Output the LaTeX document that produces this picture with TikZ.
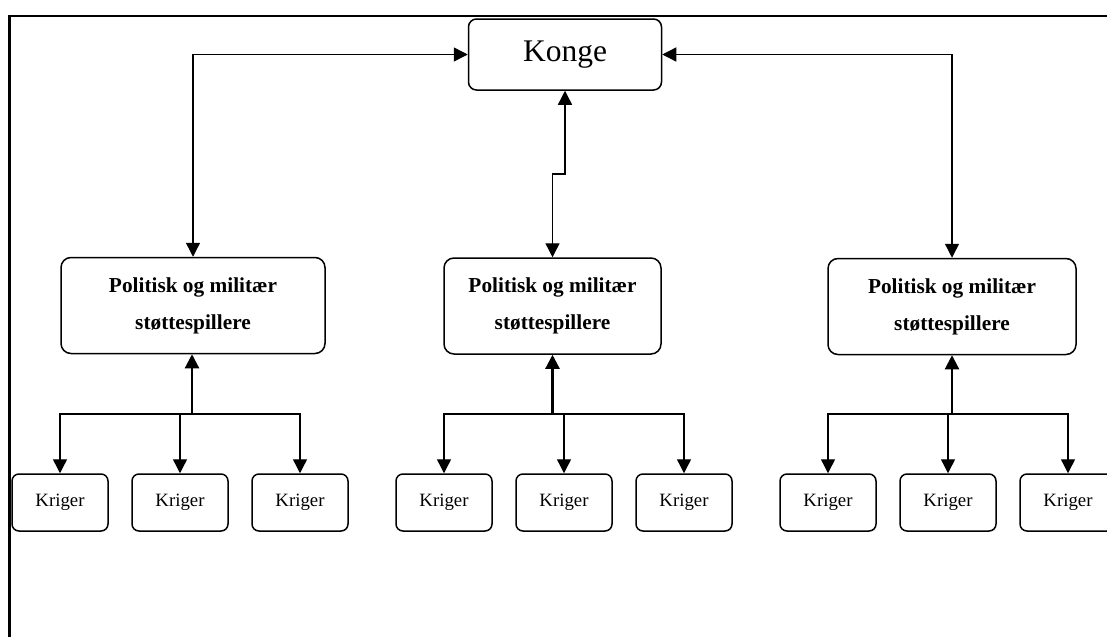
\documentclass[tikz,border=0pt]{standalone}
\usepackage{fontspec}
\setmainfont{Liberation Serif}
\usepackage{tikz}
\usetikzlibrary{positioning,arrows.meta}

\begin{document}
\begin{tikzpicture}[%
    x=0.5pt, y=-0.5pt, >={Triangle[length=7pt,width=7pt]},
    konge/.style  = {draw, rectangle, rounded corners=4pt, line width=0.75pt, minimum width=96.5pt, minimum height=35.5pt, font=\fontsize{15.75}{19}\selectfont},
    stotte/.style = {draw, rectangle, rounded corners=5pt, line width=0.75pt, minimum height=48pt, align=center, font=\fontsize{10.65}{18.5}\selectfont\bfseries},
    kriger/.style = {draw, rectangle, rounded corners=3.5pt, line width=0.75pt, minimum width=48pt, minimum height=28.5pt, font=\fontsize{9.4}{11}\selectfont},
    link/.style   = {line width=0.7pt},
    opp/.style    = {line width=1.1pt}]

  \useasboundingbox (0,0) rectangle (1107,637);
  \clip (0,0) rectangle (1107,637);
  % ramme
  \draw [line width=1.1pt] (9.5,637) -- (9.5,16) -- (1107,16);

  \draw (565,54.5) node[konge] (Konge) {Konge};

  \draw (193,305.5) node[stotte, minimum width=132pt] (Pol1) {Politisk og militær\\støttespillere};
  \draw (552.5,306) node[stotte, minimum width=108.5pt] (Pol2) {Politisk og militær\\støttespillere};
  \draw (952,306.5) node[stotte, minimum width=124pt] (Pol3) {Politisk og militær\\støttespillere};

  \draw (60,502.5) node[kriger] (K11) {Kriger};
  \draw (180,502.5) node[kriger] (K12) {Kriger};
  \draw (300,502.5) node[kriger] (K13) {Kriger};
  \draw (444,502.5) node[kriger] (K21) {Kriger};
  \draw (564,502.5) node[kriger] (K22) {Kriger};
  \draw (684,502.5) node[kriger] (K23) {Kriger};
  \draw (828,502.5) node[kriger] (K31) {Kriger};
  \draw (948,502.5) node[kriger] (K32) {Kriger};
  \draw (1068,502.5) node[kriger] (K33) {Kriger};

  % konge <-> stotte
  \draw [link,<->] (Pol1.north) |- (Konge.west);
  \draw [link,<->] (Pol3.north) |- (Konge.east);
  \coordinate (jog) at (552.5,174);
  \draw [link,<->] (Konge.south) |- (jog) -- (Pol2.north);

  % krigere
  \coordinate (b1) at (192,414);
  \coordinate (b2) at (552.5,414);
  \coordinate (b3) at (952,414);
  \draw [opp,->] (b1) -- (b1 |- Pol1.south);
  \draw [opp,->] (b2) -- (b2 |- Pol2.south);
  \draw [opp,->] (b3) -- (b3 |- Pol3.south);
  \draw [link,->] (b1) -| (K11.north);
  \draw [link,->] (b1) -| (K12.north);
  \draw [link,->] (b1) -| (K13.north);
  \draw [link,->] (b2) -| (K21.north);
  \draw [link,->] (b2) -| (K22.north);
  \draw [link,->] (b2) -| (K23.north);
  \draw [link,->] (b3) -| (K31.north);
  \draw [link,->] (b3) -| (K32.north);
  \draw [link,->] (b3) -| (K33.north);

\end{tikzpicture}
\end{document}
